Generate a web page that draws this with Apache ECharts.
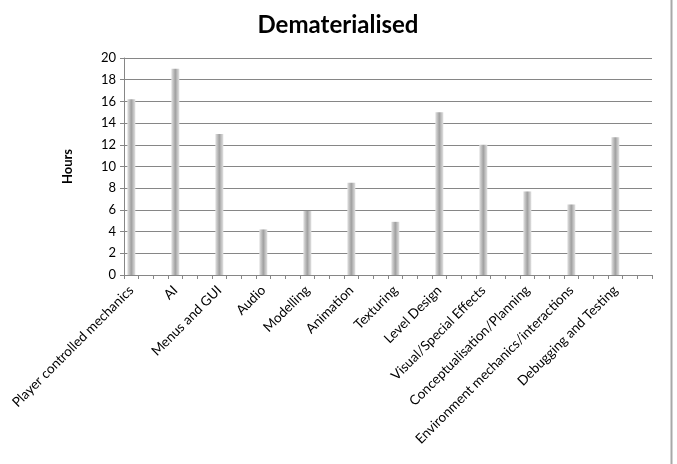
<!DOCTYPE html>
<html>
<head>
<meta charset="utf-8">
<script src="https://cdn.jsdelivr.net/npm/echarts@6/dist/echarts.min.js"></script>
<style>
html,body{margin:0;padding:0;background:#fff;}
#c{width:677px;height:464px;}
</style>
</head>
<body>
<div id="c"></div>
<script>
var categories = ["Player controlled mechanics","AI","Menus and GUI","Audio","Modelling","Animation","Texturing","Level Design","Visual/Special Effects","Conceptualisation/Planning","Environment mechanics/interactions","Debugging and Testing"];
var hours = [16.2, 19, 13, 4.2, 5.9, 8.5, 4.9, 15, 12, 7.7, 6.5, 12.7];
var yTicks = [0, 2, 4, 6, 8, 10, 12, 14, 16, 18, 20];

// the original axis has three slots per category (two empty slots after each)
var slotsPer = 3;
var axisCats = [], axisVals = [];
for (var i = 0; i < categories.length; i++) {
  axisCats.push(categories[i]);
  axisVals.push(hours[i]);
  for (var k = 1; k < slotsPer; k++) {
    axisCats.push("gap" + i + "_" + k);
    axisVals.push(null);
  }
}

var chart = echarts.init(document.getElementById('c'), null, {renderer: 'canvas'});
var font = "Lato, 'Open Sans', sans-serif";
chart.setOption({
  animation: false,
  backgroundColor: '#fff',
  title: {
    text: 'Dematerialised',
    left: 333, top: 8,
    textAlign: 'center',
    textStyle: {fontFamily: font, fontSize: 24, fontWeight: 'bold', color: '#000'}
  },
  grid: {left: 124, right: 25, top: 58, bottom: 189, containLabel: false},
  xAxis: {
    type: 'category',
    data: axisCats,
    boundaryGap: true,
    axisLine: {show: true, lineStyle: {color: '#868686', width: 1}},
    axisTick: {show: true, interval: 0, length: 4, lineStyle: {color: '#868686'}},
    axisLabel: {
      interval: slotsPer - 1,
      rotate: 45,
      margin: 13,
      fontFamily: font, fontSize: 13.5, color: '#000'
    },
    splitLine: {show: false}
  },
  yAxis: {
    type: 'value',
    min: yTicks[0], max: yTicks[yTicks.length - 1], interval: yTicks[1] - yTicks[0],
    name: 'Hours',
    nameLocation: 'middle',
    nameGap: 50,
    nameRotate: 90,
    nameTextStyle: {fontFamily: font, fontSize: 13, fontWeight: 'bold', color: '#000'},
    axisLine: {show: true, lineStyle: {color: '#868686', width: 1}},
    axisTick: {show: true, length: 4, lineStyle: {color: '#868686'}},
    axisLabel: {fontFamily: font, fontSize: 13, color: '#000', margin: 8},
    splitLine: {show: true, lineStyle: {color: '#868686', width: 1}}
  },
  series: [{
    type: 'bar',
    data: axisVals,
    barWidth: 8,
    itemStyle: {
      color: new echarts.graphic.LinearGradient(0, 0, 1, 0, [
        {offset: 0, color: '#e2e2e2'},
        {offset: 0.5, color: '#a0a0a0'},
        {offset: 1, color: '#e2e2e2'}
      ])
    }
  }],
  graphic: [{
    type: 'line',
    shape: {x1: 671.5, y1: 0, x2: 671.5, y2: 464},
    style: {stroke: '#a8a8a8', lineWidth: 2}
  }]
});
</script>
</body>
</html>
